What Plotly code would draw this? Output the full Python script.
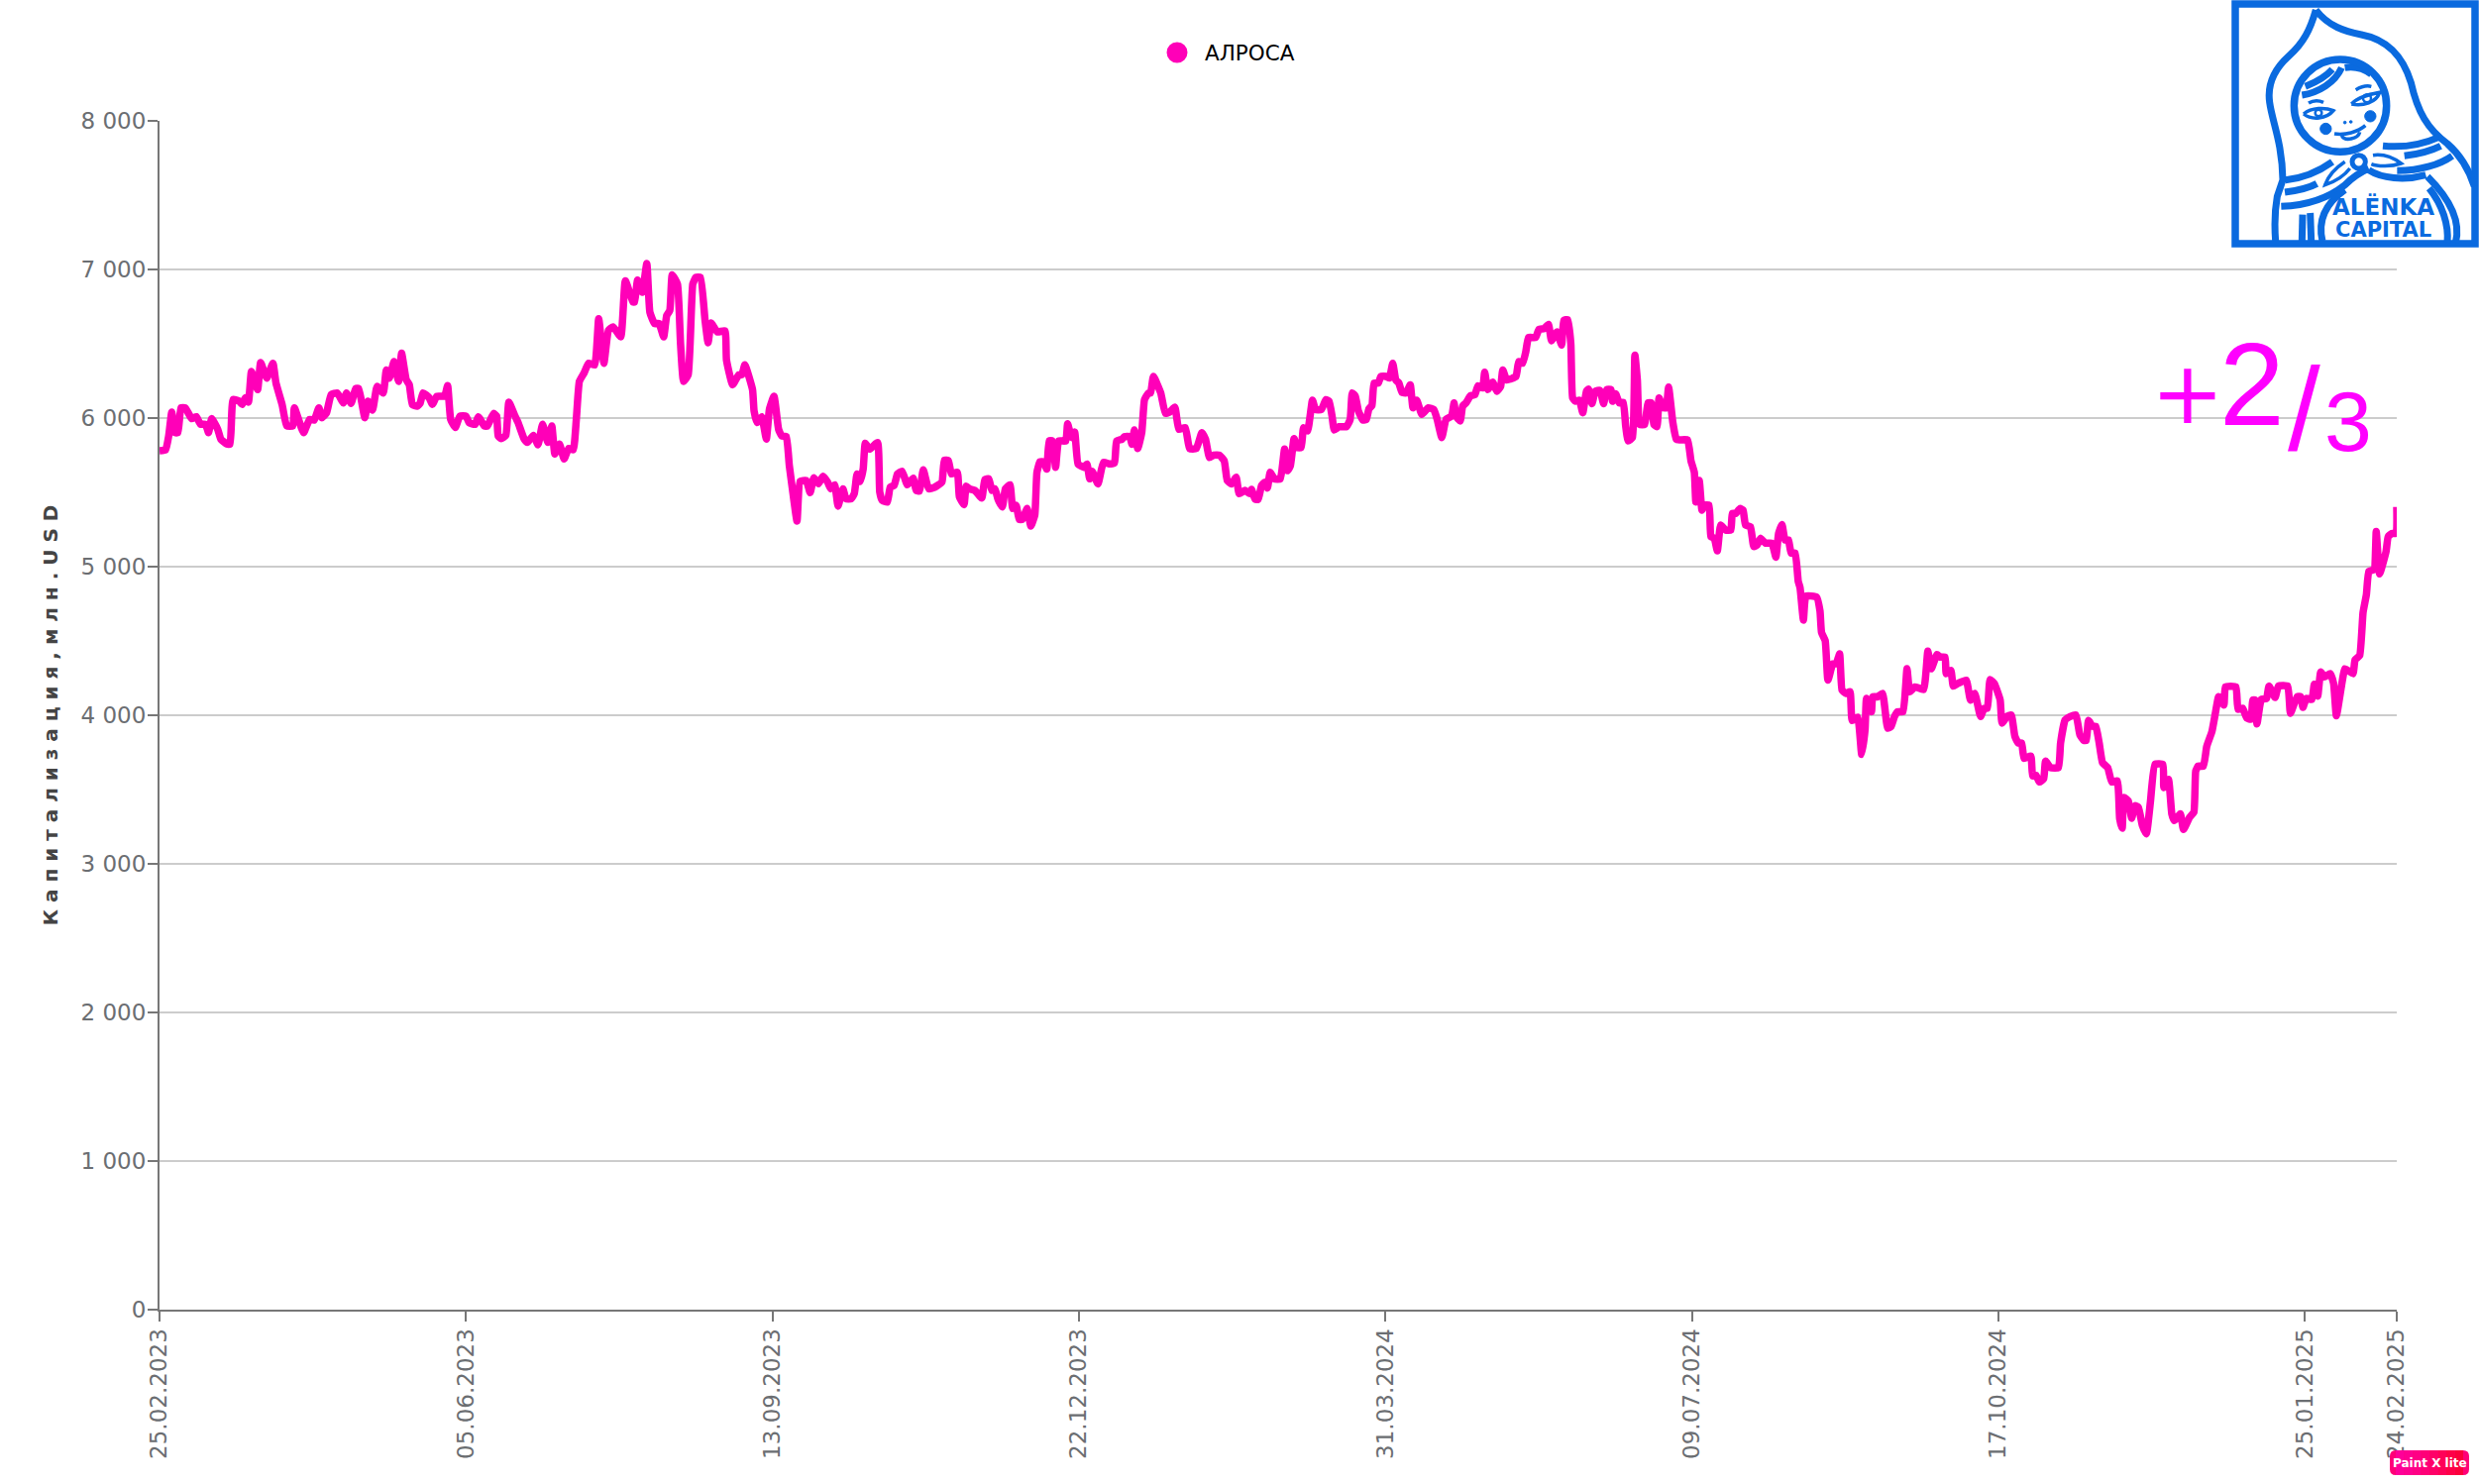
import pandas as pd
import plotly.graph_objects as go

# days since 25.02.2023, same layout as capitalization
day_offsets = [
    0, 2, 3, 4, 5, 6, 7, 8.4, 10.5, 12,
    13.4, 15, 16, 17, 19, 20, 22, 23, 24, 26,
    27, 28, 29, 30, 32, 33, 35, 37, 38, 40,
    41.5, 43.5, 44, 47, 49, 50.5, 52, 53, 54.5, 56,
    58, 60, 61, 62.5, 64, 65, 67, 68, 69.5, 71,
    73, 74, 75, 76.5, 78, 79, 80.5, 81.5, 82.5, 84,
    85, 86, 88, 89, 90.5, 93, 94, 95, 96.5, 98,
    100, 101, 103, 104, 106, 107, 109, 110, 110.5, 111.5,
    113, 114, 116, 117, 119, 120, 122, 123.5, 125, 126.7,
    128, 129, 130.5, 132, 133.5, 135, 136, 137, 138.5, 140,
    142, 143.3, 145, 146.5, 148, 150.5, 152, 154.5, 155, 156,
    157.5, 159, 160, 161.5, 163, 164.5, 165.5, 166.5, 167.3, 169,
    170, 171, 172.5, 174, 175, 176.5, 178, 179, 180, 182,
    184.5, 185, 187, 189, 190, 191, 193.5, 194, 195, 196.5,
    198, 199, 200.5, 202, 203, 204.5, 205.5, 206.5, 208, 209,
    211, 212.3, 213.5, 215, 216.5, 218, 219, 220.3, 221.4, 223,
    224, 225.7, 226.7, 227.6, 228.6, 229.6, 230.3, 231.7, 234.3, 235,
    235.8, 237.5, 238.4, 239.7, 240.8, 242.3, 244, 245.9, 246.9, 248,
    249.2, 251, 253, 255.3, 256.1, 257.4, 258.4, 260.3, 261, 262.5,
    263.2, 264.2, 266, 268.3, 269.3, 270.6, 271.6, 272.6, 273.6, 275,
    276, 277.5, 278.4, 279.5, 280.5, 281.5, 283.1, 284.3, 285.6, 286.3,
    287.3, 288.5, 289.5, 290.3, 291.3, 292.4, 293.4, 295.7, 296.3, 297.6,
    298.6, 299.7, 301.5, 302.6, 303.5, 304.3, 306.2, 308, 310.1, 311.6,
    312.3, 314, 314.9, 316.6, 317.3, 318.1, 319.2, 320.5, 321.4, 322.7,
    323.4, 324.3, 326.7, 328.2, 329.6, 331.3, 332.6, 334.7, 336.1, 338.3,
    340.1, 341.3, 342.6, 344, 345.8, 347.4, 348.4, 349.8, 351.3, 352.3,
    354.2, 355.6, 356.3, 357.5, 358.5, 359.6, 360.6, 361.5, 362.4, 363.8,
    365.7, 367.1, 368.1, 369, 370.2, 371.2, 372.5, 373.3, 374.6, 376.2,
    377.2, 379.1, 380.6, 381.6, 382.6, 383.3, 384.9, 387.3, 388.5, 389.2,
    390.2, 391.2, 392.7, 393.8, 394.6, 395.6, 396.3, 397.7, 398.5, 400.3,
    401.3, 402.4, 403.4, 404.4, 405.4, 406.8, 408.1, 409, 410.2, 411.9,
    414, 415.8, 416.9, 418.4, 419.8, 421.6, 422.4, 423, 424.4, 425.2,
    426.3, 427.8, 429.2, 430.2, 431.7, 432.4, 433.4, 435, 436.4, 437.6,
    438.3, 439.6, 442.6, 443.5, 444.8, 445.8, 446.7, 449, 450.1, 451.8,
    453.2, 454.2, 456, 457.5, 458.2, 459.5, 460.5, 461.1, 462, 463.3,
    464.4, 465.6, 466.3, 467.4, 468.5, 470, 471.2, 472.2, 473.6, 474.1,
    475.1, 476.3, 477.6, 478.4, 479.2, 480.6, 481.4, 482.2, 483, 484.6,
    485.7, 486.8, 487.6, 488.6, 489.3, 490.6, 491.6, 492.4, 493.8, 494.9,
    496, 498.6, 499.7, 500.8, 501.3, 502.4, 503.3, 504, 505.6, 506.2,
    507.3, 508.3, 509.4, 511, 512.7, 513.2, 514.3, 515.7, 516.7, 517.5,
    519.1, 520.2, 521.3, 522.4, 524, 526.1, 527.4, 528.3, 529.4, 530.4,
    531.5, 532.4, 533.7, 534.7, 535.3, 536.4, 537.2, 540.7, 541.8, 542.3,
    543.5, 544.4, 546, 547.1, 548.2, 549, 550.3, 551.6, 552.3, 554.1,
    555.4, 556.5, 557, 558.6, 559, 560.6, 562.2, 563.9, 565, 566.1,
    567.2, 568.9, 570.2, 571.1, 572.8, 575.6, 577, 578.1, 580, 581.1,
    582.6, 583, 584.5, 585.3, 586.7, 589.5, 590.9, 592.3, 594.2, 595.4,
    596.4, 597.3, 598.7, 600.6, 601.2, 602.8, 604.2, 605.4, 606.5, 607.6,
    608.4, 610.6, 611.2, 612.3, 613.4, 614.8, 615.4, 617, 619.6, 620.3,
    621.8, 623.4, 625.3, 626.6, 627.9, 628.7, 629.4, 630.7, 631.8, 632.9,
    634, 635.7, 637, 638.8, 639.6, 640.4, 641, 642.4, 643.5, 644.6,
    645.7, 647, 648.3, 649.6, 651.1, 653.7, 654, 655.5, 656.6, 657.4,
    659.4, 660.4, 662.4, 663.8, 664.4, 665.2, 666.9, 668, 669.7, 670.8,
    671.9, 673.6, 674.1, 677.5, 678.2, 679.7, 681.1, 682.5, 683, 683.8,
    684.4, 685.8, 687.5, 688.3, 690.3, 691.4, 694.4, 695.3, 697.5, 698.6,
    699.4, 700.5, 702.3, 703.1, 704.2, 705.2, 706.4, 708.3, 709.4, 710.3,
    712, 713.1, 715.7, 716.4, 717.9, 719, 720.1, 720.9, 722.6, 723.3,
    724.4, 726.5, 727.2, 728.4, 729.8, 730,
]

capitalization = [
    5780, 5787, 5880, 6040, 5902, 5902, 6069, 6069, 5996, 6009,
    5958, 5958, 5902, 5996, 5924, 5858, 5825, 5825, 6125, 6113,
    6091, 6136, 6107, 6313, 6191, 6373, 6269, 6369, 6236, 6091,
    5947, 5947, 6069, 5902, 5991, 5987, 6069, 6002, 6036, 6158,
    6169, 6102, 6169, 6098, 6198, 6198, 6002, 6113, 6053, 6213,
    6169, 6324, 6269, 6380, 6247, 6436, 6258, 6224, 6091, 6080,
    6098, 6169, 6136, 6091, 6147, 6147, 6218, 5991, 5936, 6013,
    6013, 5969, 5958, 6009, 5947, 5947, 6031, 6013, 5880, 5862,
    5884, 6107, 6013, 5969, 5858, 5836, 5884, 5820, 5958, 5836,
    5947, 5758, 5825, 5725, 5796, 5787, 5991, 6247, 6302, 6369,
    6358, 6669, 6369, 6591, 6613, 6547, 6924, 6780, 6780, 6929,
    6847, 7040, 6713, 6636, 6636, 6547, 6691, 6724, 6964, 6902,
    6502, 6247, 6291, 6902, 6947, 6947, 6658, 6507, 6640, 6580,
    6587, 6391, 6224, 6291, 6291, 6358, 6191, 6047, 5969, 6009,
    5858, 6058, 6147, 5924, 5880, 5876, 5680, 5524, 5307, 5573,
    5580, 5498, 5598, 5558, 5609, 5569, 5524, 5551, 5407, 5524,
    5457, 5457, 5491, 5624, 5573, 5657, 5831, 5791, 5835, 5502,
    5446, 5435, 5535, 5546, 5624, 5642, 5551, 5595, 5513, 5509,
    5651, 5524, 5535, 5569, 5717, 5713, 5624, 5635, 5469, 5417,
    5542, 5524, 5513, 5462, 5586, 5591, 5513, 5524, 5453, 5402,
    5524, 5551, 5391, 5413, 5318, 5318, 5391, 5273, 5346, 5635,
    5706, 5706, 5657, 5846, 5846, 5669, 5846, 5846, 5962, 5869,
    5906, 5691, 5669, 5691, 5591, 5642, 5557, 5702, 5691, 5698,
    5846, 5857, 5875, 5875, 5824, 5920, 5795, 5902, 6124, 6169,
    6169, 6280, 6169, 6031, 6040, 6073, 5924, 5935, 5795, 5795,
    5902, 5857, 5735, 5751, 5751, 5713, 5580, 5557, 5602, 5491,
    5513, 5491, 5520, 5453, 5453, 5546, 5569, 5529, 5635, 5591,
    5591, 5791, 5646, 5680, 5862, 5802, 5802, 5935, 5913, 6120,
    6057, 6057, 6124, 6113, 6013, 5920, 5942, 5942, 5991, 6169,
    6146, 6046, 5986, 5991, 6062, 6084, 6235, 6235, 6280, 6280,
    6269, 6369, 6257, 6235, 6173, 6169, 6224, 6069, 6120, 6024,
    6069, 6057, 5991, 5869, 5991, 6013, 6102, 6013, 5980, 6080,
    6102, 6151, 6157, 6217, 6202, 6309, 6191, 6242, 6180, 6213,
    6324, 6257, 6280, 6380, 6369, 6446, 6542, 6542, 6597, 6602,
    6631, 6520, 6580, 6491, 6657, 6662, 6502, 6135, 6113, 6120,
    6035, 6180, 6195, 6097, 6180, 6186, 6097, 6191, 6191, 6113,
    6164, 6102, 6106, 5946, 5846, 5869, 6424, 6257, 5957, 5957,
    6102, 6102, 5957, 5942, 6135, 6069, 6069, 6209, 5969, 5858,
    5853, 5853, 5713, 5635, 5435, 5580, 5380, 5413, 5413, 5202,
    5191, 5106, 5280, 5246, 5246, 5358, 5358, 5391, 5380, 5280,
    5269, 5135, 5146, 5191, 5158, 5158, 5064, 5224, 5284, 5180,
    5180, 5091, 5091, 4902, 4858, 4640, 4802, 4795, 4702, 4558,
    4502, 4236, 4347, 4347, 4413, 4169, 4147, 4158, 3964, 3987,
    3736, 3902, 4113, 4024, 4124, 4124, 4147, 3913, 3925, 3991,
    4024, 4024, 4313, 4158, 4191, 4173, 4431, 4313, 4409, 4391,
    4391, 4280, 4302, 4196, 4213, 4236, 4102, 4147, 3991, 4047,
    4047, 4240, 4213, 4102, 3947, 3991, 4002, 3858, 3813, 3813,
    3709, 3725, 3591, 3596, 3551, 3574, 3691, 3647, 3647, 3813,
    3969, 3991, 4002, 3869, 3831, 3831, 3965, 3925, 3925, 3813,
    3680, 3647, 3551, 3558, 3302, 3240, 3447, 3424, 3307, 3391,
    3380, 3258, 3202, 3413, 3669, 3669, 3513, 3569, 3336, 3291,
    3336, 3231, 3313, 3347, 3625, 3658, 3658, 3791, 3891, 4013,
    4125, 4069, 4191, 4191, 4040, 4047, 3980, 3973, 4102, 4102,
    3942, 4107, 4113, 4196, 4120, 4196, 4196, 4013, 4125, 4125,
    4053, 4113, 4107, 4209, 4129, 4291, 4258, 4280, 4213, 3996,
    4202, 4313, 4280, 4373, 4402, 4691, 4813, 4969, 4980, 5236,
    4951, 5102, 5202, 5224, 5224, 5402,
]

x_tick_dates = ['2023-02-25', '2023-06-05', '2023-09-13', '2023-12-22', '2024-03-31',
                '2024-07-09', '2024-10-17', '2025-01-25', '2025-02-24']
x_tick_labels = ['25.02.2023', '05.06.2023', '13.09.2023', '22.12.2023', '31.03.2024',
                 '09.07.2024', '17.10.2024', '25.01.2025', '24.02.2025']
y_ticks = [0, 1000, 2000, 3000, 4000, 5000, 6000, 7000, 8000]
y_tick_labels = ['0', '1 000', '2 000', '3 000', '4 000', '5 000', '6 000', '7 000', '8 000']

LINE_COLOR = '#FF00B8'
PEN_COLOR = '#FF00FF'
LOGO_BLUE = '#0A6ADF'
TICK_TEXT = '#6B6E72'

W, H = 2502, 1498
LEFT, RIGHT, TOP, BOTTOM = 161, 2419, 122, 1322


def px(x):
    return (x - LEFT) / (RIGHT - LEFT)


def py(y):
    return (BOTTOM - y) / (BOTTOM - TOP)


def logo_path(points):
    # points are (cmd, x, y, ...) pixels of the logo crop, 3x from x=2150 y=0
    parts = []
    for seg in points:
        cmd, nums = seg[0], seg[1:]
        vals = []
        for i in range(0, len(nums), 2):
            vals.append(f'{px(2150 + nums[i] / 3):.5f},{py(nums[i + 1] / 3):.5f}')
        parts.append(cmd + ' '.join(vals))
    return ' '.join(parts)


def logo_stroke(points, width=7, fill=None):
    return dict(type='path', xref='paper', yref='paper', path=logo_path(points),
                line=dict(color=LOGO_BLUE, width=width), fillcolor=fill, layer='above')


dates = pd.Timestamp('2023-02-25') + pd.to_timedelta(day_offsets, unit='D')

fig = go.Figure()
fig.add_trace(go.Scatter(
    x=dates.strftime('%Y-%m-%d %H:%M'),
    y=capitalization,
    mode='lines',
    line=dict(color=LINE_COLOR, width=7.5, shape='spline', smoothing=0.4),
    showlegend=False,
))
# legend entry shows a round dot, not the line
fig.add_trace(go.Scatter(
    x=[None], y=[None],
    mode='markers',
    name='АЛРОСА',
    marker=dict(color=LINE_COLOR, size=16, line=dict(color=LINE_COLOR, width=5)),
))

shapes = []

# logo frame and doll
shapes.append(dict(type='rect', xref='paper', yref='paper',
                   x0=px(2256), x1=px(2498), y0=py(246), y1=py(4),
                   line=dict(color=LOGO_BLUE, width=7.5), fillcolor='white', layer='above'))
logo_lines = [
    # head scarf outline
    [('M', 562, 30), ('C', 545, 90, 525, 130, 480, 170), ('C', 430, 215, 415, 260, 422, 310),
     ('C', 430, 370, 460, 430, 462, 545), ('L', 445, 595), ('C', 437, 640, 437, 690, 440, 730)],
    [('M', 562, 30), ('C', 600, 80, 650, 95, 700, 105), ('C', 780, 120, 825, 170, 850, 250),
     ('C', 870, 340, 900, 390, 960, 435), ('C', 1000, 470, 1025, 510, 1042, 565)],
    # scarf bands
    [('M', 470, 545), ('C', 520, 540, 570, 520, 612, 490)],
    [('M', 468, 582), ('C', 505, 577, 540, 570, 565, 556)],
    [('M', 457, 625), ('C', 530, 622, 600, 600, 650, 560), ('C', 680, 530, 700, 520, 722, 510)],
    [('M', 765, 442), ('C', 820, 447, 880, 440, 935, 415)],
    [('M', 830, 472), ('C', 870, 467, 910, 457, 940, 442)],
    [('M', 808, 517), ('C', 880, 517, 940, 497, 975, 472)],
    [('M', 722, 515), ('C', 760, 540, 830, 548, 895, 530)],
    # body arcs
    [('M', 900, 535), ('C', 950, 585, 1005, 660, 985, 735)],
    [('M', 905, 570), ('C', 945, 620, 965, 680, 960, 735)],
    [('M', 522, 650), ('L', 520, 730)],
    [('M', 545, 645), ('L', 548, 730)],
    [('M', 650, 575), ('C', 600, 610, 565, 660, 582, 730)],
    # hair
    [('M', 520, 288), ('C', 570, 280, 620, 250, 640, 205)],
    [('M', 530, 262), ('C', 560, 250, 590, 235, 612, 210)],
    [('M', 650, 205), ('C', 680, 200, 710, 210, 730, 225)],
]
for seg in logo_lines:
    shapes.append(logo_stroke(seg))

logo_thin = [
    # eyes and brows
    [('M', 525, 345), ('C', 550, 325, 590, 325, 615, 335), ('C', 595, 360, 550, 365, 525, 345)],
    [('M', 540, 312), ('C', 555, 303, 570, 303, 585, 310)],
    [('M', 670, 315), ('C', 690, 292, 730, 285, 755, 280), ('C', 745, 310, 705, 322, 670, 315)],
    [('M', 683, 272), ('C', 700, 262, 715, 258, 730, 262)],
    # mouth
    [('M', 618, 405), ('C', 650, 410, 690, 400, 712, 380)],
    [('M', 640, 410), ('C', 650, 430, 690, 420, 695, 400)],
    # scarf flaps
    [('M', 650, 490), ('C', 620, 510, 600, 530, 590, 560), ('C', 620, 550, 650, 530, 665, 510)],
    [('M', 735, 470), ('C', 770, 465, 800, 480, 820, 495), ('C', 790, 505, 750, 505, 730, 497)],
]
for seg in logo_thin:
    shapes.append(logo_stroke(seg, width=3.5))


def circle(cx, cy, r, width=6, fill=None):
    return dict(type='circle', xref='paper', yref='paper',
                x0=px(2150 + (cx - r) / 3), x1=px(2150 + (cx + r) / 3),
                y0=py((cy + r) / 3), y1=py((cy - r) / 3),
                line=dict(color=LOGO_BLUE, width=width), fillcolor=fill, layer='above')


shapes.append(circle(636, 320, 140, width=7.5))
shapes.append(circle(592, 390, 17, width=1, fill=LOGO_BLUE))
shapes.append(circle(727, 352, 17, width=1, fill=LOGO_BLUE))
shapes.append(circle(570, 342, 10, width=2.5))
shapes.append(circle(717, 298, 12, width=2.5))
shapes.append(circle(692, 490, 20, width=5))
shapes.append(circle(650, 371, 4, width=1, fill=LOGO_BLUE))
shapes.append(circle(668, 369, 4, width=1, fill=LOGO_BLUE))

# Paint X lite badge, pink to red
badge_colors = ['#FF0099', '#FF0090', '#FF0085', '#FF0078', '#FF0068', '#FF0058', '#FF0048', '#FC003C']
bx0, bx1, by0, by1 = 2412, 2492, 1464, 1489
shapes.append(dict(type='path', xref='paper', yref='paper', layer='above', line_width=0,
                   fillcolor=badge_colors[3],
                   path=f'M{px(bx0 + 6)},{py(by0)} L{px(bx1 - 6)},{py(by0)} '
                        f'Q{px(bx1)},{py(by0)} {px(bx1)},{py(by0 + 6)} L{px(bx1)},{py(by1 - 6)} '
                        f'Q{px(bx1)},{py(by1)} {px(bx1 - 6)},{py(by1)} L{px(bx0 + 6)},{py(by1)} '
                        f'Q{px(bx0)},{py(by1)} {px(bx0)},{py(by1 - 6)} L{px(bx0)},{py(by0 + 6)} '
                        f'Q{px(bx0)},{py(by0)} {px(bx0 + 6)},{py(by0)} Z'))
strip = (bx1 - bx0 - 12) / len(badge_colors)
for i, c in enumerate(badge_colors):
    shapes.append(dict(type='rect', xref='paper', yref='paper', layer='above', line_width=0,
                       fillcolor=c, x0=px(bx0 + 6 + i * strip), x1=px(bx0 + 6 + (i + 1) * strip),
                       y0=py(by1), y1=py(by0)))

annotations = [
    # hand written note
    dict(text='+', x=px(2208), y=py(396), font=dict(size=88, color=PEN_COLOR, family='DejaVu Sans')),
    dict(text='2', x=px(2273), y=py(388), font=dict(size=118, color=PEN_COLOR, family='Liberation Sans')),
    dict(text='/', x=px(2325), y=py(413), font=dict(size=118, color=PEN_COLOR, family='Liberation Sans')),
    dict(text='3', x=px(2370), y=py(425), font=dict(size=86, color=PEN_COLOR, family='Liberation Sans')),
    # logo text
    dict(text='<b>ALËNKA</b>', x=px(2405), y=py(208), font=dict(size=23, color=LOGO_BLUE, family='DejaVu Sans')),
    dict(text='<b>CAPITAL</b>', x=px(2405), y=py(232), font=dict(size=21, color=LOGO_BLUE, family='DejaVu Sans')),
    dict(text='<b>Paint X lite</b>', x=px(2452), y=py(1477), font=dict(size=12, color='white', family='DejaVu Sans')),
]
for a in annotations:
    a.update(xref='paper', yref='paper', showarrow=False, xanchor='center', yanchor='middle')

fig.update_layout(
    width=W,
    height=H,
    margin=dict(l=LEFT, r=W - RIGHT, t=TOP, b=H - BOTTOM, autoexpand=False),
    paper_bgcolor='white',
    plot_bgcolor='white',
    font=dict(family='DejaVu Sans', color=TICK_TEXT, size=23),
    legend=dict(orientation='h', x=px(1160), y=py(53), xanchor='left', yanchor='middle',
                font=dict(size=21.5, color='black'), itemsizing='trace', itemwidth=46),
    shapes=shapes,
    annotations=annotations,
    xaxis=dict(
        type='date',
        range=['2023-02-25', '2025-02-24'],
        tickmode='array',
        tickvals=x_tick_dates,
        ticktext=x_tick_labels,
        tickangle=-90,
        ticks='outside',
        ticklen=10,
        tickwidth=2,
        tickcolor='#777777',
        showline=True,
        linecolor='#777777',
        linewidth=2,
        showgrid=False,
        zeroline=False,
        ticklabelstandoff=-2,
        tickfont=dict(size=23, color=TICK_TEXT),
    ),
    yaxis=dict(
        range=[0, 8000],
        tickmode='array',
        tickvals=y_ticks,
        ticktext=y_tick_labels,
        ticks='outside',
        ticklen=10,
        tickwidth=2,
        tickcolor='#777777',
        showline=True,
        linecolor='#777777',
        linewidth=2,
        gridcolor='#CCCCCC',
        gridwidth=2,
        zeroline=False,
        ticklabelstandoff=-3,
        tickfont=dict(size=23, color=TICK_TEXT),
        title=dict(text='<b>К а п и т а л и з а ц и я , м л н . U S D</b>',
                   font=dict(size=20, color='#444444'), standoff=18),
    ),
)

# browser default body margin would push the chart 8px off the reference
fig.write_html("out.html", config=dict(displayModeBar=False),
               post_script="document.body.style.margin='0';document.documentElement.style.overflow='hidden';")
